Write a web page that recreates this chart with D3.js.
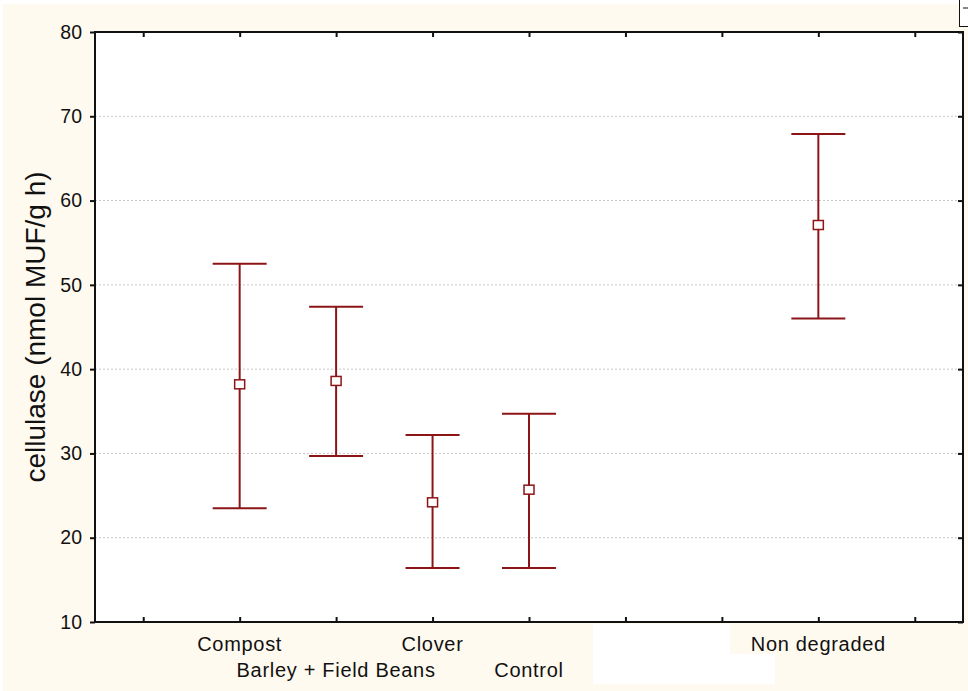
<!DOCTYPE html>
<html>
<head>
<meta charset="utf-8">
<script src="https://cdn.jsdelivr.net/npm/d3@7"></script>
<style>
  body { margin: 0; background: #fff; }
  text { font-family: Arial, "Liberation Sans", sans-serif; fill: #111; }
</style>
</head>
<body>
<div id="chart"></div>
<script>
// Data
const categories = ["Compost", "Barley + Field Beans", "Clover", "Control", "Non degraded"];
const catPos = [2, 3, 4, 5, 8];          // slot on the x axis (9 slots)
const labelRow = [0, 1, 0, 1, 0];         // staggered labels
const means = [38.2, 38.6, 24.2, 25.7, 57.1];
const upper = [52.5, 47.4, 32.2, 34.7, 67.9];
const lower = [23.5, 29.7, 16.4, 16.4, 46.0];
const yTicks = [10, 20, 30, 40, 50, 60, 70, 80];

const width = 968, height = 691;
const margin = { left: 95, right: 5, top: 32, bottom: 69 };
const red = "#8c1518";

let svg = d3.select("#chart").append("svg")
    .attr("width", width)
    .attr("height", height)

// cream page background
svg.append("rect")
    .attr("x", 3).attr("y", 4)
    .attr("width", width - 3).attr("height", height - 4)
    .attr("fill", "#fffaef")

let x = d3.scaleLinear().domain([0.5, 9.5]).range([margin.left, width - margin.right])
let y = d3.scaleLinear().domain([10, 80]).range([height - margin.bottom, margin.top])

// plot area
svg.append("rect")
    .attr("x", x(0.5)).attr("y", y(80))
    .attr("width", x(9.5) - x(0.5)).attr("height", y(10) - y(80))
    .attr("fill", "#fff")

// dotted grid
svg.append("g")
    .selectAll("line")
    .data(yTicks.filter(t => t > 10 && t < 80))
    .enter().append("line")
    .attr("x1", x(0.5)).attr("x2", x(9.5))
    .attr("y1", d => y(d)).attr("y2", d => y(d))
    .attr("stroke", "#c8c8c8")
    .attr("stroke-dasharray", "2,2")

// axes
let slots = d3.range(1, 10)
let axisStyle = g => {
    g.select(".domain").remove()
    g.selectAll(".tick line").attr("stroke", "#111").attr("stroke-width", 2)
}
svg.append("g")
    .attr("transform", `translate(0,${y(10)})`)
    .call(d3.axisTop(x).tickValues(slots).tickSize(5).tickFormat(""))
    .call(axisStyle)
svg.append("g")
    .attr("transform", `translate(0,${y(80)})`)
    .call(d3.axisBottom(x).tickValues(slots).tickSize(5).tickFormat(""))
    .call(axisStyle)
svg.append("g")
    .attr("transform", `translate(${x(0.5)},0)`)
    .call(d3.axisLeft(y).tickValues(yTicks).tickSize(5).tickPadding(8))
    .call(axisStyle)
    .call(g => g.selectAll("text").attr("font-size", 19.5).attr("font-family", "Arial, 'Liberation Sans', sans-serif").attr("fill", "#111"))
svg.append("g")
    .attr("transform", `translate(${x(9.5)},0)`)
    .call(d3.axisLeft(y).tickValues(yTicks).tickSize(5).tickFormat(""))
    .call(axisStyle)

// frame
svg.append("rect")
    .attr("x", x(0.5)).attr("y", y(80))
    .attr("width", x(9.5) - x(0.5)).attr("height", y(10) - y(80))
    .attr("fill", "none")
    .attr("stroke", "#111")
    .attr("stroke-width", 2)

// category labels
svg.append("g")
    .selectAll("text")
    .data(categories)
    .enter().append("text")
    .attr("x", (d, i) => x(catPos[i]))
    .attr("y", (d, i) => y(10) + 29 + labelRow[i] * 26)
    .attr("text-anchor", "middle")
    .attr("font-size", 20)
    .attr("letter-spacing", 0.7)
    .text(d => d)

// y axis title
svg.append("text")
    .attr("transform", `translate(45,${(y(10) + y(80)) / 2}) rotate(-90)`)
    .attr("text-anchor", "middle")
    .attr("font-size", 28)
    .text("cellulase (nmol MUF/g h)")

// error bars
const capHalf = 27;
let bars = svg.append("g")
    .selectAll("g")
    .data(categories.map((c, i) => i))
    .enter().append("g")
bars.append("line")
    .attr("x1", i => x(catPos[i])).attr("x2", i => x(catPos[i]))
    .attr("y1", i => y(upper[i])).attr("y2", i => y(lower[i]))
    .attr("stroke", red).attr("stroke-width", 2)
bars.append("line")
    .attr("x1", i => x(catPos[i]) - capHalf).attr("x2", i => x(catPos[i]) + capHalf)
    .attr("y1", i => y(upper[i])).attr("y2", i => y(upper[i]))
    .attr("stroke", red).attr("stroke-width", 2)
bars.append("line")
    .attr("x1", i => x(catPos[i]) - capHalf).attr("x2", i => x(catPos[i]) + capHalf)
    .attr("y1", i => y(lower[i])).attr("y2", i => y(lower[i]))
    .attr("stroke", red).attr("stroke-width", 2)
bars.append("rect")
    .attr("x", i => x(catPos[i]) - 5).attr("y", i => y(means[i]) - 4.5)
    .attr("width", 10).attr("height", 9)
    .attr("fill", "#fff")
    .attr("stroke", red).attr("stroke-width", 1.5)

// white patch below the axis and the little box at top right (as in the picture)
svg.append("path")
    .attr("d", "M593,624H730V654H775V684H593Z")
    .attr("fill", "#fff")
svg.append("rect")
    .attr("x", 959.5).attr("y", -1).attr("width", 10).attr("height", 27.5)
    .attr("fill", "#fff").attr("stroke", "#111")
svg.append("line")
    .attr("x1", 963).attr("x2", 968).attr("y1", 8).attr("y2", 8)
    .attr("stroke", "#111")
</script>
</body>
</html>
